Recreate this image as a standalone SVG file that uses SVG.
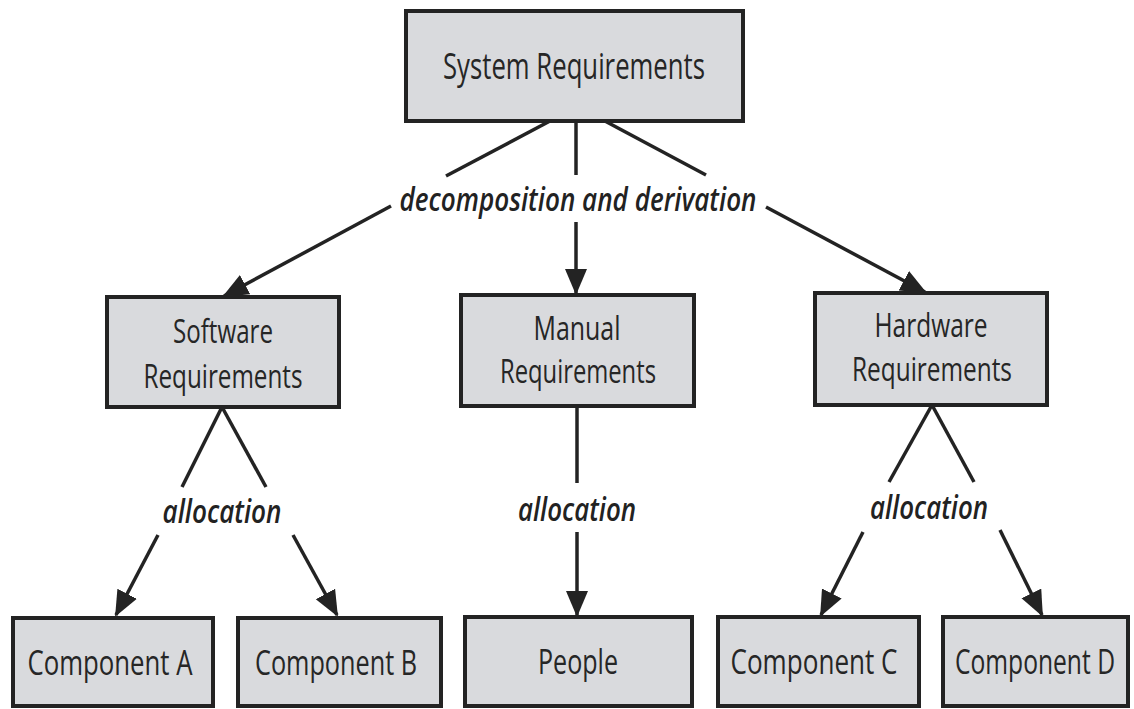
<svg xmlns="http://www.w3.org/2000/svg" width="1134" height="709" viewBox="0 0 1134 709">
<style>
.box{fill:#d9dadd;stroke:#232323;stroke-width:4}
.nt{font-family:"Open Sans","Noto Sans","Liberation Sans",sans-serif;font-size:34px;fill:#262626;text-anchor:middle}
.nt2{font-family:"Open Sans","Noto Sans","Liberation Sans",sans-serif;font-size:33px;fill:#262626;text-anchor:middle}
.big{font-size:36px}
.lb{font-family:"Open Sans","Noto Sans","Liberation Sans",sans-serif;font-size:32px;font-style:italic;font-weight:600;fill:#222222;text-anchor:middle}
.cn{stroke:#232323;stroke-width:3.5;fill:none}
</style>
<defs>
<marker id="ah" markerUnits="userSpaceOnUse" markerWidth="28" markerHeight="24" refX="24" refY="11" orient="auto">
<path d="M0,0 L26,11 L0,22 z" fill="#232323"/>
</marker>
</defs>
<rect width="1134" height="709" fill="#ffffff"/>
<g id="connectors">
<line class="cn" x1="550" y1="121" x2="446" y2="176"/>
<line class="cn" x1="391" y1="206" x2="224" y2="296" marker-end="url(#ah)"/>
<line class="cn" x1="576" y1="121" x2="576" y2="175"/>
<line class="cn" x1="576" y1="222" x2="576" y2="293" marker-end="url(#ah)"/>
<line class="cn" x1="603" y1="120" x2="706" y2="175"/>
<line class="cn" x1="766" y1="207" x2="925" y2="292" marker-end="url(#ah)"/>
<line class="cn" x1="222" y1="407" x2="182" y2="487"/>
<line class="cn" x1="158" y1="535" x2="116" y2="615" marker-end="url(#ah)"/>
<line class="cn" x1="222" y1="407" x2="266" y2="487"/>
<line class="cn" x1="293" y1="535" x2="337" y2="615" marker-end="url(#ah)"/>
<line class="cn" x1="577" y1="406" x2="577" y2="483"/>
<line class="cn" x1="577" y1="532" x2="577" y2="615" marker-end="url(#ah)"/>
<line class="cn" x1="932" y1="405" x2="889" y2="482"/>
<line class="cn" x1="863" y1="532" x2="821" y2="615" marker-end="url(#ah)"/>
<line class="cn" x1="932" y1="405" x2="974" y2="482"/>
<line class="cn" x1="1000" y1="530" x2="1042" y2="615" marker-end="url(#ah)"/>
<text class="lb" x="578" y="211" textLength="357" lengthAdjust="spacingAndGlyphs">decomposition and derivation</text>
<text class="lb" x="222" y="523" textLength="119" lengthAdjust="spacingAndGlyphs">allocation</text>
<text class="lb" x="577" y="521" textLength="118" lengthAdjust="spacingAndGlyphs">allocation</text>
<text class="lb" x="929" y="519" textLength="118" lengthAdjust="spacingAndGlyphs">allocation</text>
</g>
<g id="system">
<rect class="box" x="406" y="11" width="337" height="110"/>
<text class="nt big" x="574" y="79" textLength="262" lengthAdjust="spacingAndGlyphs">System Requirements</text>
</g>
<g id="software">
<rect class="box" x="107" y="297" width="232" height="110"/>
<text class="nt2" x="223" y="343" textLength="100" lengthAdjust="spacingAndGlyphs">Software</text>
<text class="nt2" x="223" y="388" textLength="159" lengthAdjust="spacingAndGlyphs">Requirements</text>
</g>
<g id="manual">
<rect class="box" x="461" y="295" width="233" height="111"/>
<text class="nt2" x="577" y="340" textLength="87" lengthAdjust="spacingAndGlyphs">Manual</text>
<text class="nt2" x="578" y="383" textLength="156" lengthAdjust="spacingAndGlyphs">Requirements</text>
</g>
<g id="hardware">
<rect class="box" x="815" y="293" width="232" height="112"/>
<text class="nt2" x="931" y="337" textLength="113" lengthAdjust="spacingAndGlyphs">Hardware</text>
<text class="nt2" x="932" y="381" textLength="160" lengthAdjust="spacingAndGlyphs">Requirements</text>
</g>
<g id="componentA">
<rect class="box" x="13" y="618" width="200" height="88"/>
<text class="nt" x="110" y="675" textLength="165" lengthAdjust="spacingAndGlyphs">Component A</text>
</g>
<g id="componentB">
<rect class="box" x="238" y="618" width="203" height="88"/>
<text class="nt" x="336" y="675" textLength="162" lengthAdjust="spacingAndGlyphs">Component B</text>
</g>
<g id="people">
<rect class="box" x="465" y="617" width="227" height="89"/>
<text class="nt" x="578" y="674" textLength="80" lengthAdjust="spacingAndGlyphs">People</text>
</g>
<g id="componentC">
<rect class="box" x="718" y="617" width="201" height="89"/>
<text class="nt" x="814" y="674" textLength="167" lengthAdjust="spacingAndGlyphs">Component C</text>
</g>
<g id="componentD">
<rect class="box" x="943" y="617" width="185" height="89"/>
<text class="nt" x="1035" y="674" textLength="160" lengthAdjust="spacingAndGlyphs">Component D</text>
</g>
</svg>
